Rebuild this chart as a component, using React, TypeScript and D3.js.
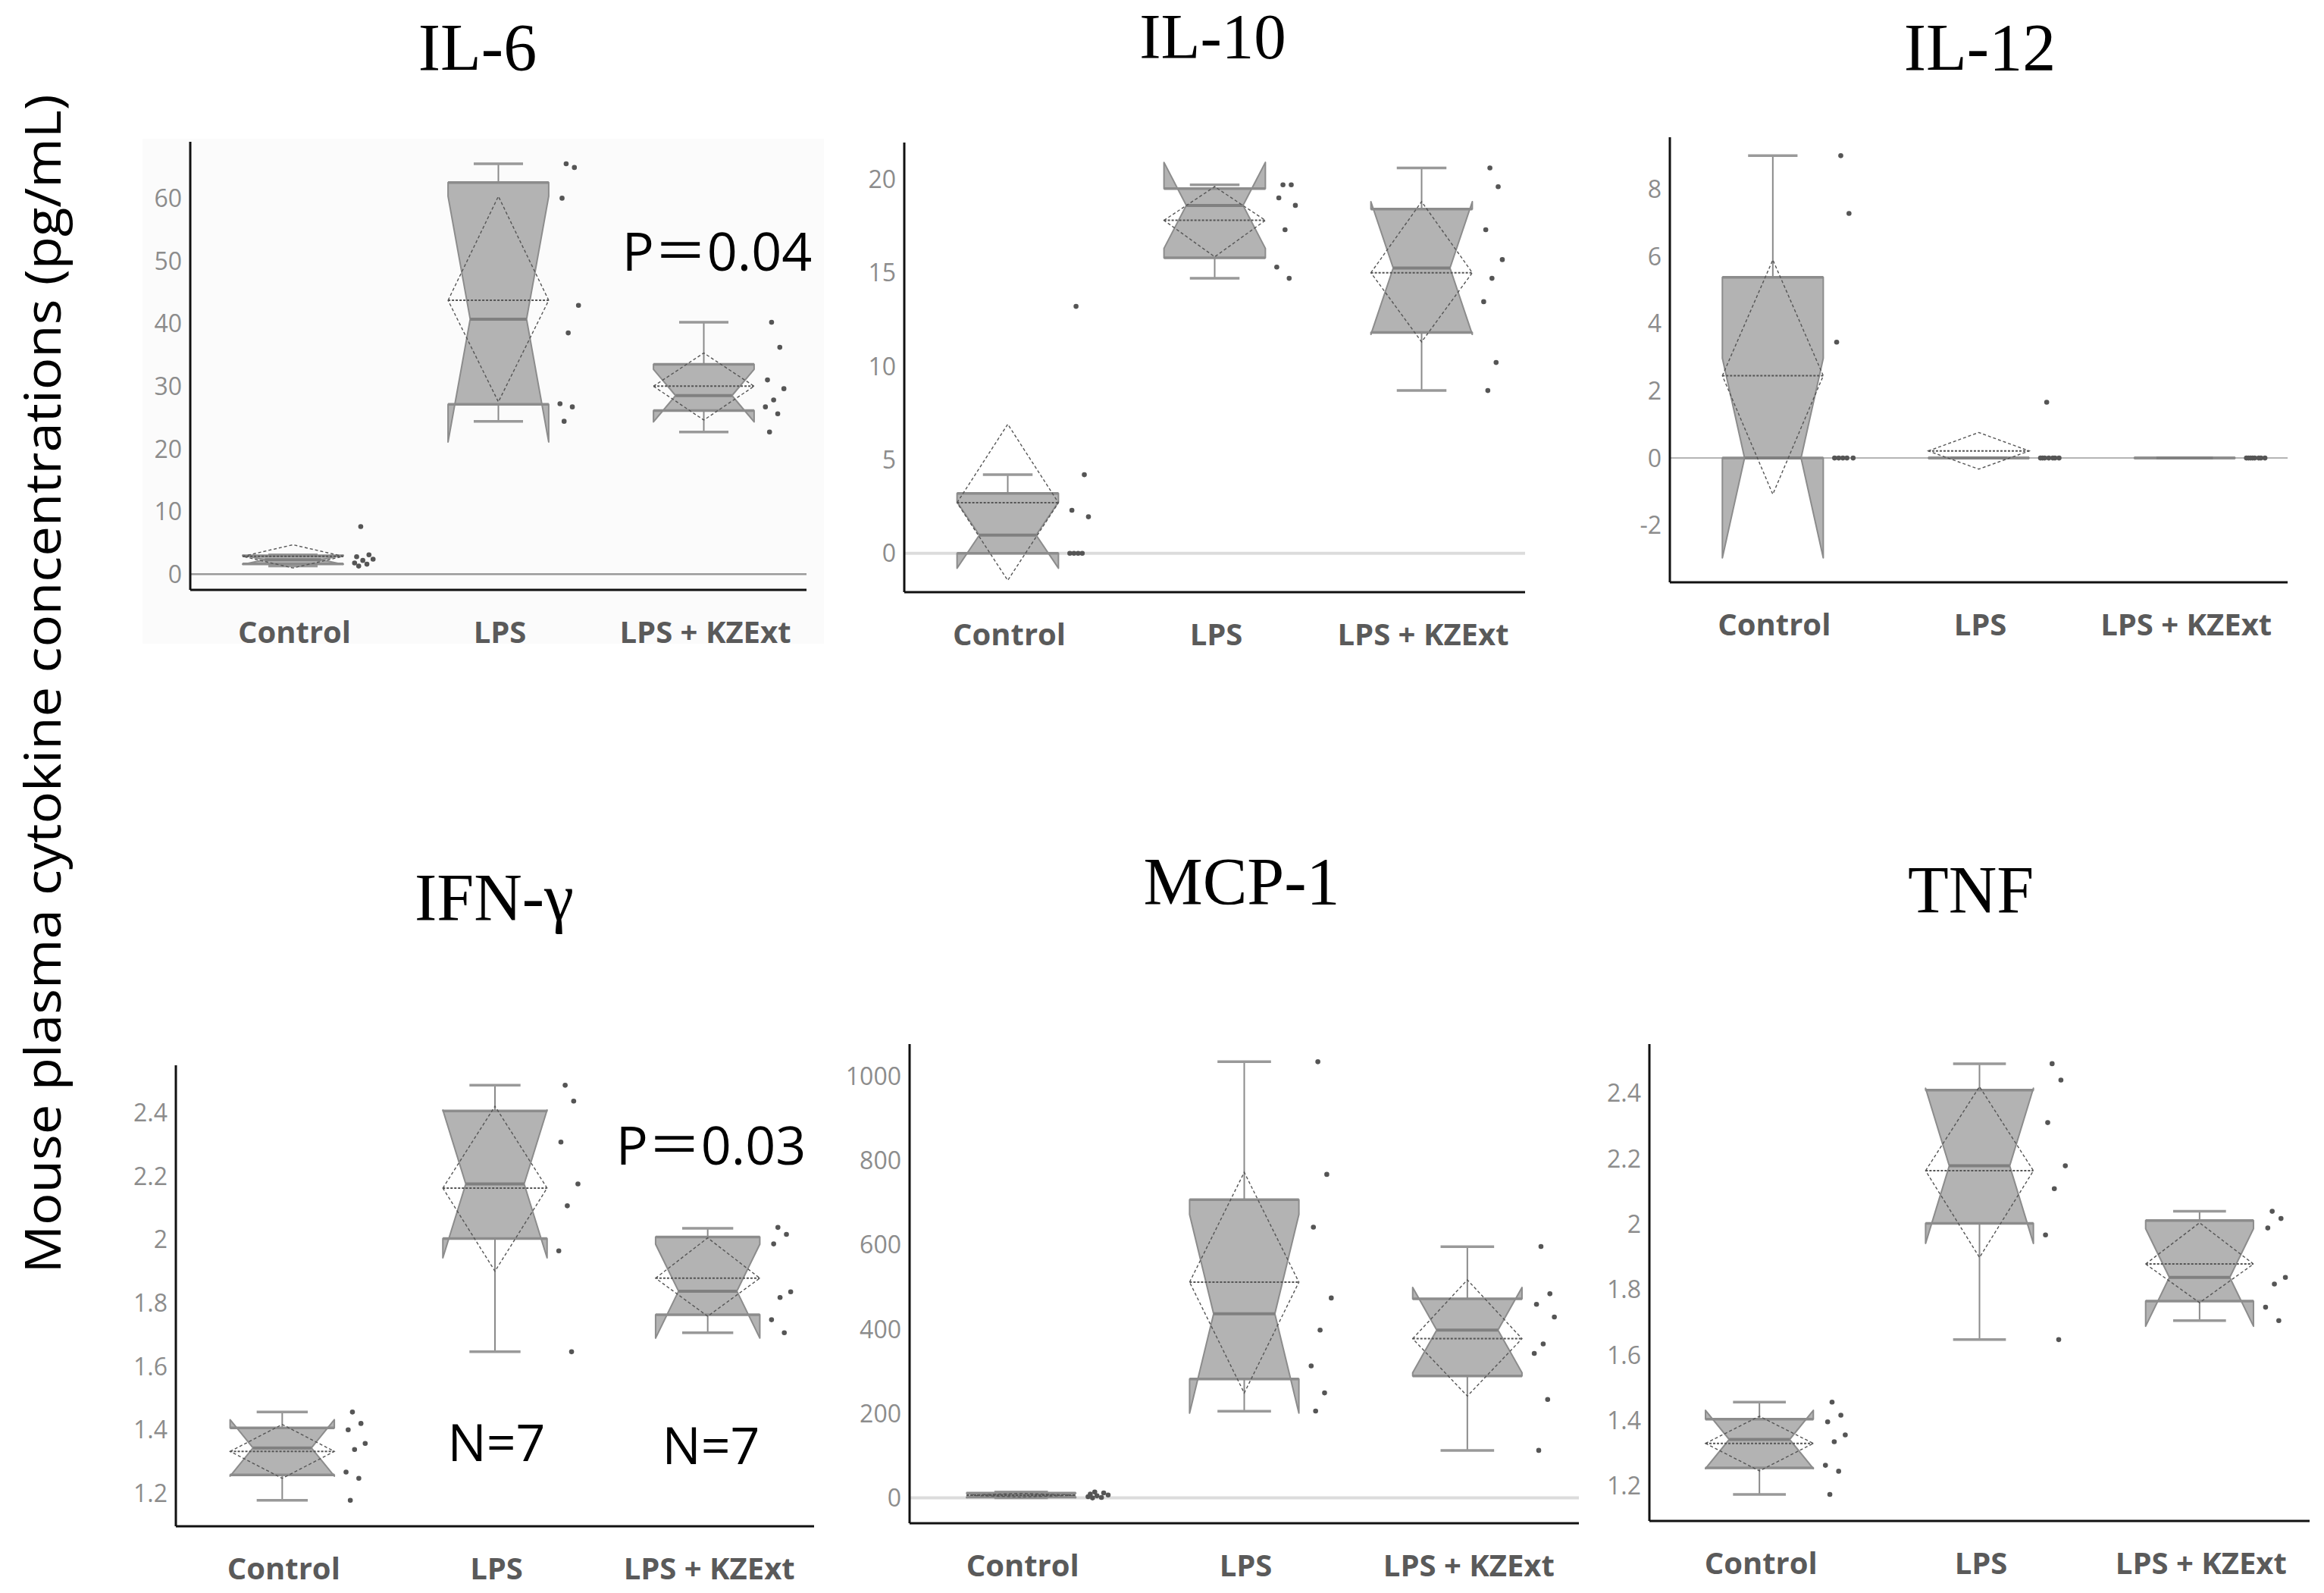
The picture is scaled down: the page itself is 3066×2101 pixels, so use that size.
import * as d3 from 'd3';

const groups = ['Control', 'LPS', 'LPS + KZExt'];

// per group: [min, q1, median, q3, max]
const il6Box = [[1.3, 1.65, 2.3, 2.95, 3.1], [24.4, 27.1, 40.7, 62.5, 65.5], [22.7, 26.1, 28.5, 33.5, 40.2]];
// per group: [mean, lower 95%, upper 95%]
const il6Mean = [[2.85, 1.0, 4.7], [43.7, 27.5, 60.3], [30.0, 24.6, 35.3]];
// per group: [notch low, notch high]
const il6Notch = [[1.57, 3.03], [21.1, 60.3], [24.3, 32.7]];
const il6Points = [
  [7.6, 3.1, 2.8, 2.4, 2.2, 1.8, 1.6, 1.3],
  [65.5, 64.9, 60.0, 42.9, 38.5, 27.2, 26.7, 24.4],
  [40.2, 36.2, 31.0, 29.6, 27.8, 26.7, 25.6, 22.7],
];
const il6Ticks = [0, 10, 20, 30, 40, 50, 60];

const il10Box = [[0, 0, 0.97, 3.2, 4.2], [14.7, 15.8, 18.6, 19.5, 19.7], [8.7, 11.8, 15.25, 18.4, 20.6]];
const il10Mean = [[2.7, -1.45, 6.9], [17.8, 15.85, 19.6], [15.0, 11.3, 18.8]];
const il10Notch = [[-0.8, 2.74], [16.3, 20.9], [11.7, 18.8]];
const il10Points = [
  [13.2, 4.2, 2.3, 1.95, 0, 0, 0, 0],
  [19.7, 19.7, 19.0, 18.6, 17.3, 15.3, 14.7],
  [20.6, 19.6, 17.3, 15.7, 14.7, 13.45, 10.2, 8.7],
];
const il10Ticks = [0, 5, 10, 15, 20];

const il12Box = [[0, 0, 0, 5.38, 9.0], [0, 0, 0, 0, 0], [0, 0, 0, 0, 0]];
const il12Mean = [[2.45, -1.08, 5.9], [0.21, -0.33, 0.76], [0, 0, 0]];
const il12Notch = [[-2.97, 2.97], [0, 0], [0, 0]];
const il12Points = [
  [9.0, 7.28, 3.45, 0, 0, 0, 0, 0],
  [1.66, 0, 0, 0, 0, 0, 0, 0],
  [0, 0, 0, 0, 0, 0, 0, 0],
];
const il12Ticks = [-2, 0, 2, 4, 6, 8];

const ifnBox = [[1.178, 1.258, 1.343, 1.406, 1.456], [1.646, 2.003, 2.175, 2.405, 2.486], [1.706, 1.763, 1.837, 2.008, 2.035]];
const ifnMean = [[1.332, 1.247, 1.417], [2.162, 1.9, 2.42], [1.878, 1.758, 2.005]];
const ifnNotch = [[1.254, 1.432], [1.942, 2.408], [1.689, 1.985]];
const ifnPoints = [
  [1.456, 1.42, 1.4, 1.357, 1.338, 1.267, 1.247, 1.178],
  [2.486, 2.436, 2.307, 2.175, 2.106, 1.964, 1.646],
  [2.038, 2.016, 1.986, 1.835, 1.817, 1.747, 1.706],
];
const ifnTicks = [1.2, 1.4, 1.6, 1.8, 2, 2.2, 2.4];

const mcpBox = [[0, 2, 6, 11.5, 14], [205.7, 281.8, 436.5, 707, 1034], [112.7, 289, 398, 472, 595.7]];
const mcpMean = [[6.4, 2, 10.8], [511.6, 248.7, 772], [377.5, 241.5, 517]];
const mcpNotch = [[0.7, 11.3], [201, 672], [297, 499]];
const mcpPoints = [
  [14, 12, 9, 7, 5, 3, 1, 0],
  [1034, 767, 642, 474, 398, 313, 249, 206],
  [596, 484, 459, 429, 365, 342.6, 233.5, 112.7],
];
const mcpTicks = [0, 200, 400, 600, 800, 1000];

const tnfBox = [[1.174, 1.255, 1.342, 1.404, 1.456], [1.647, 2.002, 2.178, 2.409, 2.49], [1.705, 1.765, 1.837, 2.011, 2.039]];
const tnfMean = [[1.33, 1.246, 1.413], [2.163, 1.898, 2.42], [1.878, 1.76, 2.004]];
const tnfNotch = [[1.253, 1.431], [1.941, 2.415], [1.688, 1.986]];
const tnfPoints = [
  [1.456, 1.416, 1.396, 1.356, 1.335, 1.263, 1.245, 1.174],
  [2.49, 2.44, 2.31, 2.178, 2.108, 1.967, 1.647],
  [2.039, 2.017, 1.988, 1.837, 1.817, 1.746, 1.705],
];
const tnfTicks = [1.2, 1.4, 1.6, 1.8, 2, 2.2, 2.4];

// horizontal spread of the raw points, as a fraction of the band
const jitter = [0.33, 0.37, 0.31, 0.39, 0.34, 0.3, 0.36, 0.32];

const panels = [
  { title: 'IL-6', box: il6Box, mean: il6Mean, notch: il6Notch, points: il6Points, ticks: il6Ticks,
    domain: [-2.5, 69], left: 251, right: 1064, top: 187, bottom: 778, titleX: 630, titleY: 92,
    zero: { color: '#9a9a9a', width: 2.5 }, bg: true },
  { title: 'IL-10', box: il10Box, mean: il10Mean, notch: il10Notch, points: il10Points, ticks: il10Ticks,
    domain: [-2.08, 21.96], left: 1193, right: 2012, top: 188, bottom: 781, titleX: 1600, titleY: 77,
    zero: { color: '#dcdcdc', width: 4 } },
  { title: 'IL-12', box: il12Box, mean: il12Mean, notch: il12Notch, points: il12Points, ticks: il12Ticks,
    domain: [-3.7, 9.55], left: 2203, right: 3018, top: 181, bottom: 768, titleX: 2612, titleY: 92,
    zero: { color: '#b5b5b5', width: 2 } },
  { title: 'IFN-γ', box: ifnBox, mean: ifnMean, notch: ifnNotch, points: ifnPoints, ticks: ifnTicks,
    domain: [1.096, 2.549], left: 232, right: 1074, top: 1405, bottom: 2013, titleX: 652, titleY: 1213 },
  { title: 'MCP-1', box: mcpBox, mean: mcpMean, notch: mcpNotch, points: mcpPoints, ticks: mcpTicks,
    domain: [-60, 1076], left: 1200, right: 2083, top: 1377, bottom: 2009, titleX: 1638, titleY: 1192,
    zero: { color: '#dcdcdc', width: 4 } },
  { title: 'TNF', box: tnfBox, mean: tnfMean, notch: tnfNotch, points: tnfPoints, ticks: tnfTicks,
    domain: [1.093, 2.55], left: 2176, right: 3047, top: 1377, bottom: 2006, titleX: 2600, titleY: 1203 },
];

const notes = [
  { text: 'P＝0.04', x: 946, y: 357, size: 70 },
  { text: 'P＝0.03', x: 938, y: 1536, size: 70 },
  { text: 'N=7', x: 655, y: 1927, size: 68 },
  { text: 'N=7', x: 938, y: 1931, size: 68 },
];

const SANS = "'Open Sans', 'Noto Sans', 'Noto Sans CJK JP', sans-serif";

function Panel({ p }: { p: any }) {
  const x = d3.scaleBand().domain(groups).range([p.left, p.right]).padding(0);
  const y = d3.scaleLinear().domain(p.domain).range([p.bottom, p.top]);
  const bw = x.bandwidth();
  const boxW = bw * 0.49;
  const capW = bw * 0.24;
  const line = d3.line();

  return (
    <g>
      {p.bg && <rect x={p.left - 63} y={p.top - 4} width={p.right - p.left + 86} height={p.bottom - p.top + 75} fill="#fbfbfb" />}
      <text x={p.titleX} y={p.titleY} textAnchor="middle" fontFamily="'Liberation Serif', 'DejaVu Serif', serif" fontSize={p.title === 'IL-10' ? 85 : 88} fill="#000">{p.title}</text>
      {p.zero && <line x1={p.left} x2={p.right} y1={y(0)} y2={y(0)} stroke={p.zero.color} strokeWidth={p.zero.width} />}
      {p.ticks.map((t: number) => (
        <text key={t} x={p.left - 11} y={y(t)} dy="0.36em" textAnchor="end" fontFamily={SANS} fontSize={32} fill="#8c8c8c">{`${+t.toFixed(2)}`}</text>
      ))}
      {groups.map((g, i) => {
        const cx = x(g)! + bw / 2;
        const [mn, q1, med, q3, mx] = p.box[i];
        const [mean, mLo, mHi] = p.mean[i];
        const [nLo, nHi] = p.notch[i];
        const L = cx - boxW / 2, R = cx + boxW / 2, inset = boxW * 0.22;
        const poly = line([
          [L, y(q3)], [L, y(nHi)], [L + inset, y(med)], [L, y(nLo)], [L, y(q1)],
          [R, y(q1)], [R, y(nLo)], [R - inset, y(med)], [R, y(nHi)], [R, y(q3)],
        ]) + 'Z';
        const diamond = line([[L, y(mean)], [cx, y(mHi)], [R, y(mean)], [cx, y(mLo)]]) + 'Z';
        return (
          <g key={g}>
            {mx > q3 && <line x1={cx} x2={cx} y1={y(q3)} y2={y(mx)} stroke="#8a8a8a" strokeWidth={2} />}
            {mx > q3 && <line x1={cx - capW / 2} x2={cx + capW / 2} y1={y(mx)} y2={y(mx)} stroke="#999" strokeWidth={3.5} />}
            {mn < q1 && <line x1={cx} x2={cx} y1={y(q1)} y2={y(mn)} stroke="#8a8a8a" strokeWidth={2} />}
            {mn < q1 && <line x1={cx - capW / 2} x2={cx + capW / 2} y1={y(mn)} y2={y(mn)} stroke="#999" strokeWidth={3.5} />}
            <path d={poly} fill="#b3b3b3" stroke="#8c8c8c" strokeWidth={2} strokeLinejoin="round" />
            <line x1={L} x2={R} y1={y(q3)} y2={y(q3)} stroke="#8c8c8c" strokeWidth={3.5} />
            <line x1={L} x2={R} y1={y(q1)} y2={y(q1)} stroke="#8c8c8c" strokeWidth={3.5} />
            <line x1={L + inset} x2={R - inset} y1={y(med)} y2={y(med)} stroke="#808080" strokeWidth={4} />
            {mHi > mLo && <path d={diamond} fill="none" stroke="#555" strokeWidth={1.4} strokeDasharray="4 3" />}
            {mHi > mLo && <line x1={L} x2={R} y1={y(mean)} y2={y(mean)} stroke="#555" strokeWidth={2} strokeDasharray="3 2" />}
            {p.points[i].map((v: number, j: number) => (
              <circle key={j} cx={x(g)! + bw * (0.5 + jitter[j % jitter.length])} cy={y(v)} r={3.3} fill="#555" />
            ))}
            <text x={cx + 2} y={p.bottom + 70} textAnchor="middle" fontFamily={SANS} fontWeight={700} fontSize={40} fill="#5a5a5a">{g}</text>
          </g>
        );
      })}
      <line x1={p.left} x2={p.left} y1={p.top} y2={p.bottom} stroke="#111" strokeWidth={3} />
      <line x1={p.left} x2={p.right} y1={p.bottom} y2={p.bottom} stroke="#111" strokeWidth={3} />
    </g>
  );
}

export default function App() {
  return (
    <svg width={3066} height={2101} style={{ position: 'absolute', left: 0, top: 0, background: '#fff' }}>
      <rect width={3066} height={2101} fill="#fff" />
      {panels.map(p => <Panel key={p.title} p={p} />)}
      {notes.map((n, i) => (
        <text key={i} x={n.x} y={n.y} textAnchor="middle" fontFamily={SANS} fontSize={n.size} fill="#000">{n.text}</text>
      ))}
      <text transform="translate(80, 902) rotate(-90)" textAnchor="middle" fontFamily={SANS} fontSize={66}
        textLength={1555} lengthAdjust="spacingAndGlyphs" fill="#000">
        Mouse plasma cytokine concentrations (pg/mL)
      </text>
    </svg>
  );
}
